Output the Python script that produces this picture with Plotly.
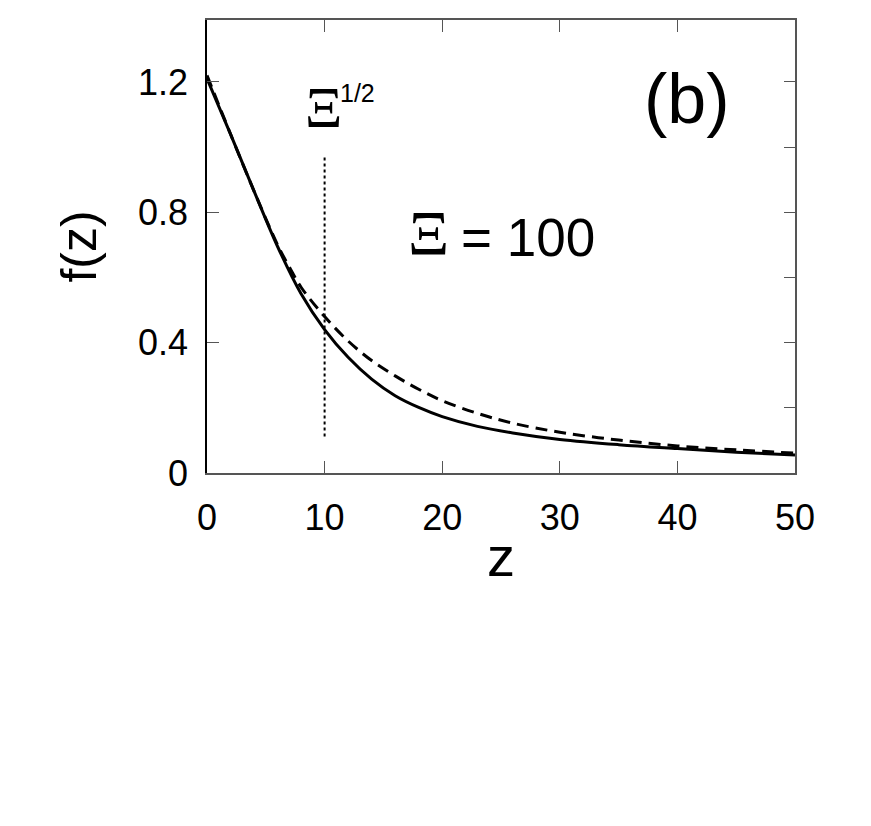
import plotly.graph_objects as go

# curve values
z_solid = [0, 2, 4, 6, 8, 10, 12, 14, 16, 18, 20, 23, 26, 30, 35, 40, 45, 50]
f_solid = [1.21, 1.04, 0.865, 0.695, 0.55, 0.44, 0.355, 0.288, 0.237, 0.201, 0.173,
           0.143, 0.123, 0.103, 0.087, 0.075, 0.064, 0.055]

z_dash = [0, 2, 4, 6, 7, 8, 10, 12, 14, 16, 18, 20, 23, 26, 30, 35, 40, 45, 50]
f_dash = [1.22, 1.04, 0.865, 0.70, 0.632, 0.57, 0.48, 0.405, 0.345, 0.298, 0.257,
          0.222, 0.183, 0.153, 0.125, 0.101, 0.083, 0.071, 0.061]

z_marker = [10, 10]
f_marker = [0.112, 0.972]

xticks = [0, 10, 20, 30, 40, 50]
yticks = [0, 0.4, 0.8, 1.2]
yminor = [0, 0.2, 0.4, 0.6, 0.8, 1.0, 1.2, 1.4]

sans = "Liberation Sans, Arial, sans-serif"
serif = "Liberation Serif, Times New Roman, serif"
axcol = "#555555"

fig = go.Figure()
fig.add_trace(go.Scatter(x=z_solid, y=f_solid, mode="lines", line_shape="spline",
                         line=dict(color="black", width=3)))
fig.add_trace(go.Scatter(x=z_dash, y=f_dash, mode="lines", line_shape="spline",
                         line=dict(color="black", width=3, dash="12px,7px")))
fig.add_trace(go.Scatter(x=z_marker, y=f_marker, mode="lines",
                         line=dict(color="black", width=2, dash="dot")))
# dummy trace so the right-hand axis gets drawn
fig.add_trace(go.Scatter(x=[None], y=[None], yaxis="y2", showlegend=False))

# page body has an 8px margin, so margins are shifted by that much
fig.update_layout(
    width=871, height=826,
    margin=dict(l=199, r=84, t=12, b=361),
    paper_bgcolor="white", plot_bgcolor="white",
    showlegend=False,
    font=dict(family=sans, color="black"),
    xaxis=dict(range=[0, 50], tickvals=xticks, ticks="inside", ticklen=12,
               tickcolor=axcol, showline=True, linecolor=axcol, linewidth=2,
               mirror="ticks", showgrid=False, zeroline=False, automargin=False,
               tickfont=dict(size=36, family=sans), ticklabelstandoff=12,
               title=dict(text="z", font=dict(size=56, family=sans), standoff=0)),
    yaxis=dict(range=[0, 1.39], tickvals=yticks, ticktext=["0", "0.4", "0.8", "1.2"],
               ticks="inside", ticklen=12, tickcolor=axcol, showline=True,
               linecolor="black", linewidth=1.5, showgrid=False, zeroline=False,
               automargin=False,
               tickfont=dict(size=36, family=sans), ticklabelstandoff=10,
               title=dict(text="f(z)", font=dict(size=50, family=sans), standoff=26)),
    yaxis2=dict(range=[0, 1.39], overlaying="y", side="right", tickvals=yminor,
                showticklabels=False, ticks="inside", ticklen=11, tickcolor=axcol,
                showline=True, linecolor=axcol, linewidth=2, showgrid=False,
                zeroline=False, automargin=False),
)

fig.add_annotation(x=9.9, y=1.12, xref="x", yref="y", text="Ξ", showarrow=False,
                   font=dict(size=58, family=serif))
fig.add_annotation(x=12.8, y=1.165, xref="x", yref="y", text="1/2", showarrow=False,
                   font=dict(size=25, family=sans))
fig.add_annotation(x=40.8, y=1.148, xref="x", yref="y", text="(b)", showarrow=False,
                   font=dict(size=70, family=sans))
fig.add_annotation(x=18.8, y=0.735, xref="x", yref="y", text="Ξ", showarrow=False,
                   font=dict(size=64, family=serif))
fig.add_annotation(x=27.3, y=0.723, xref="x", yref="y", text="= 100", showarrow=False,
                   font=dict(size=53, family=sans))

fig.write_html("out.html")
